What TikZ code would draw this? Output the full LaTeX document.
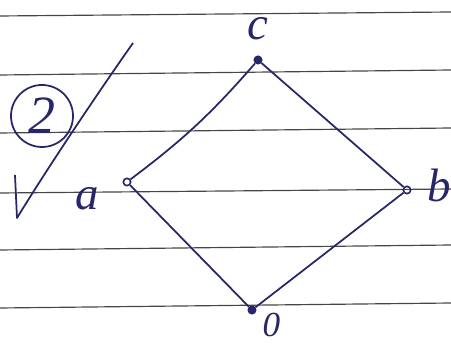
\documentclass[tikz,border=0pt]{standalone}
\usepackage{fontspec}
\setmainfont{Liberation Serif}
\usetikzlibrary{positioning}
\definecolor{ink}{RGB}{38,38,105}
\definecolor{ruling}{RGB}{70,70,70}

\begin{document}
\begin{tikzpicture}[x=0.03cm, y=0.03cm, node distance=0.5cm,
  vert/.style={circle, draw=ink, line width=1.4pt, inner sep=0pt, minimum size=0.22cm},
  lbl/.style={text=ink, inner sep=0pt, font=\fontsize{40}{40}\selectfont\itshape}]
  \useasboundingbox (0,0) rectangle (451,347);
  % lined paper
  \foreach \l/\r in {331/335, 272/277, 214/219, 154/158, 97/102, 39/44}
    \draw[ruling, line width=1pt] (0,\l) -- (451,\r);
  % tick and circled number
  \node (two) at (42,231) [circle, draw=ink, line width=1.5pt, minimum size=1.86cm,
    inner sep=0pt, text=ink, font=\fontsize{46}{46}\selectfont\itshape] {2};
  \draw[ink, line width=1.5pt, line join=round]
    (15,172) -- (17,129) .. controls (45,175) and (95,250) .. (133,304);
  % the lattice
  \node (c) at (258,287) [vert, fill=ink] {};
  \node (a) at (127,165) [vert] {};
  \node (b) at (407,157) [vert] {};
  \node (zero) at (252,37) [vert, fill=ink] {};
  \node (cl) [lbl, above=0.45cm of c] {c};
  \node (al) [lbl, below left=0.06cm and 0.75cm of a] {a};
  \node (bl) [lbl, right=0.48cm of b, yshift=0.15cm] {b};
  \node (zl) [lbl, font=\fontsize{30}{30}\selectfont\itshape,
    below right=0cm and 0.22cm of zero] {0};
  \path[draw=ink, line width=1.5pt]
    (c) edge[bend left=6] (a)
    (c) edge (b)
    (a) edge (zero)
    (b) edge (zero);
\end{tikzpicture}
\end{document}
